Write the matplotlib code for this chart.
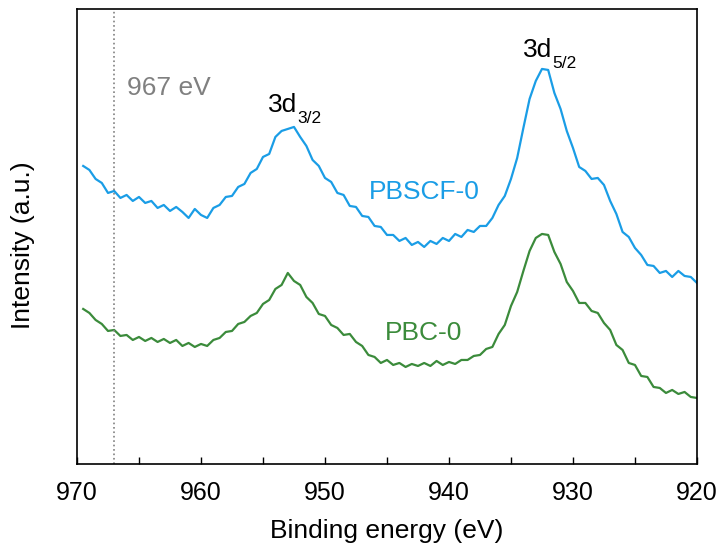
import matplotlib
matplotlib.use("Agg")
import matplotlib.pyplot as plt
from matplotlib.ticker import MultipleLocator
import numpy as np

plt.rcParams['font.family'] = ['Liberation Sans', 'DejaVu Sans']

# binding energy grid (eV), 969.5 -> 920.0 in 0.5 eV steps
energy = np.arange(969.5, 919.9, -0.5)

# PBSCF-0, Co 2p region (a.u.)
pbscf = [298, 294, 285, 281, 271, 273, 266, 269, 263, 267,
         261, 263, 256, 259, 253, 257, 252, 246, 255, 249,
         246, 256, 259, 267, 268, 277, 280, 291, 295, 307,
         310, 327, 333, 335, 337, 327, 318, 304, 298, 286,
         282, 271, 269, 258, 257, 248, 247, 238, 237, 229,
         229, 223, 226, 219, 222, 217, 223, 220, 226, 223,
         230, 227, 234, 232, 238, 238, 246, 259, 268, 285,
         306, 336, 365, 383, 395, 394, 371, 355, 333, 316,
         297, 293, 285, 286, 279, 263, 250, 232, 227, 216,
         209, 199, 198, 191, 193, 187, 193, 188, 187, 181]

# PBC-0 (a.u.)
pbc = [155, 151, 144, 140, 133, 134, 128, 129, 124, 127,
       123, 126, 122, 125, 121, 124, 118, 121, 117, 120,
       118, 124, 126, 132, 133, 140, 142, 148, 151, 160,
       164, 175, 179, 191, 183, 179, 167, 161, 150, 148,
       139, 136, 129, 130, 122, 118, 109, 107, 101, 104,
       99, 101, 97, 100, 98, 101, 98, 103, 99, 102,
       100, 104, 104, 108, 109, 115, 117, 130, 139, 158,
       172, 193, 213, 226, 230, 229, 212, 200, 182, 173,
       161, 161, 153, 151, 141, 134, 119, 114, 101, 99,
       88, 87, 77, 76, 71, 74, 70, 72, 67, 66]

blue = '#1a9de6'
green = '#3b8b3b'

fig = plt.figure(figsize=(7.23, 5.59), dpi=100)
ax = fig.add_axes([0.1065, 0.170, 0.8575, 0.814])

ax.plot(energy, pbscf, color=blue, lw=1.6)
ax.plot(energy, pbc, color=green, lw=1.6)

# satellite marker
ax.axvline(967, color='#808080', ls=':', lw=1.2)
ax.text(966.0, 376, '967 eV', color='#808080', fontsize=19, va='center', ha='left')

# peak labels
ax.text(954.6, 352, '3d', fontsize=19, ha='left', va='baseline')
ax.text(952.2, 341, '3/2', fontsize=12.5, ha='left', va='baseline')
ax.text(934.0, 407, '3d', fontsize=19, ha='left', va='baseline')
ax.text(931.7, 396, '5/2', fontsize=12.5, ha='left', va='baseline')

ax.text(946.5, 272, 'PBSCF-0', color=blue, fontsize=19, ha='left', va='center')
ax.text(945.2, 131, 'PBC-0', color=green, fontsize=19, ha='left', va='center')

ax.set_xlim(970, 920)
ax.set_ylim(0, 455)
ax.xaxis.set_major_locator(MultipleLocator(10))
ax.xaxis.set_minor_locator(MultipleLocator(5))
ax.tick_params(axis='x', which='both', direction='in', length=5, width=1,
               labelsize=18, pad=12, top=False)
ax.set_yticks([])
for s in ax.spines.values():
    s.set_linewidth(1.2)

ax.set_xlabel('Binding energy (eV)', fontsize=19, labelpad=10)
ax.set_ylabel('Intensity (a.u.)', fontsize=19)
ax.yaxis.set_label_coords(-0.068, 0.48)

fig.savefig('out.png', dpi=100)
